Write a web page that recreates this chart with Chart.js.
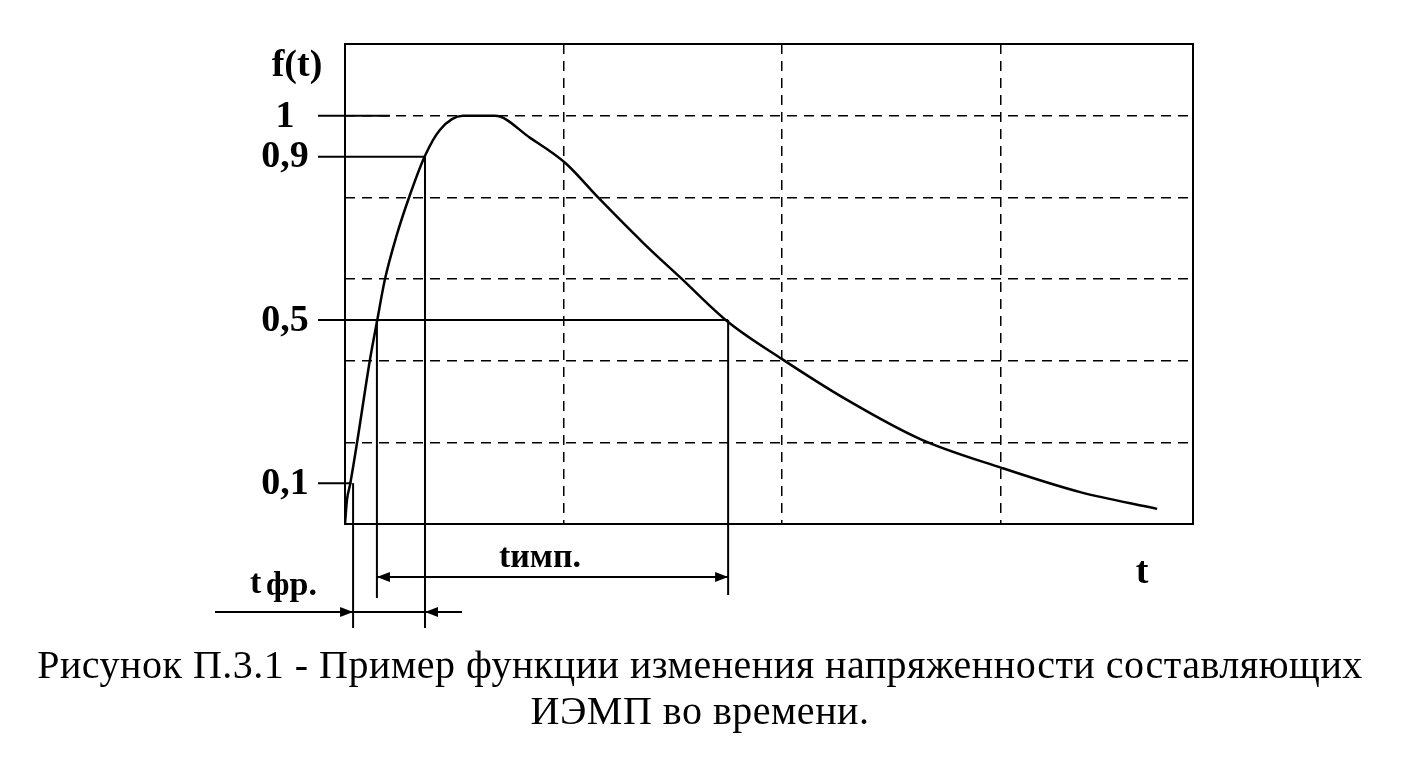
<!DOCTYPE html>
<html lang="ru">
<head>
  <meta charset="UTF-8">
  <title>Рисунок П.3.1</title>
  <script src="https://cdn.jsdelivr.net/npm/chart.js"></script>
  <style>
    html, body { margin: 0; padding: 0; background: #fff; }
    .wrap { width: 1417px; height: 762px; }
  </style>
</head>
<body>
  <div class="wrap"><canvas id="grafico" width="1417" height="762"></canvas></div>

  <script>
    // curve f(t), t in grid units (vertical dashed lines at 1, 2, 3)
    const tempo   = [0, 0.009, 0.023, 0.055, 0.114, 0.146, 0.183, 0.238, 0.293, 0.366, 0.435, 0.54, 0.686,
                     0.847, 1.007, 1.158, 1.364, 1.542, 1.753, 2.0, 2.297, 2.632, 3.007, 3.364, 3.716];
    const valores = [0, 0.059, 0.096, 0.199, 0.402, 0.495, 0.60, 0.71, 0.80, 0.902, 0.966, 1.0, 1.0,
                     0.946, 0.885, 0.80, 0.689, 0.60, 0.495, 0.404, 0.304, 0.208, 0.137, 0.078, 0.037];

    const gradeX = [1, 2, 3];
    const gradeY = [0.2, 0.4, 0.6, 0.8, 1];

    // marked levels on the f(t) axis and where their solid lines stop
    const niveis        = [1, 0.9, 0.5, 0.1];
    const rotulosNiveis = ['1', '0,9', '0,5', '0,1'];
    const fimNiveis     = [0.206, 0.366, 1.753, 0.03];

    // times where the curve crosses the levels
    const t01 = 0.037, t05a = 0.146, t09 = 0.366, t05b = 1.753;

    const legenda = [
      'Рисунок П.3.1 - Пример функции изменения напряженности составляющих',
      'ИЭМП во времени.'
    ];

    const SERIF = '"Liberation Serif", "Times New Roman", serif';

    function seta(ctx, xTip, yy, dir) {
      // dir = 1 points right, -1 points left
      ctx.beginPath();
      ctx.moveTo(xTip, yy);
      ctx.lineTo(xTip - dir * 13, yy - 5);
      ctx.lineTo(xTip - dir * 13, yy + 5);
      ctx.closePath();
      ctx.fill();
    }

    function linha(ctx, x1, y1, x2, y2) {
      ctx.beginPath();
      ctx.moveTo(x1, y1);
      ctx.lineTo(x2, y2);
      ctx.stroke();
    }

    const extras = {
      id: 'extras',
      afterDraw(chart) {
        const { ctx, chartArea: a, scales: { x, y } } = chart;
        ctx.save();
        ctx.strokeStyle = '#000';
        ctx.fillStyle = '#000';

        // frame
        ctx.lineWidth = 2;
        ctx.strokeRect(a.left, a.top, a.right - a.left, a.bottom - a.top);

        // level lines and labels
        ctx.font = 'bold 38px ' + SERIF;
        ctx.textAlign = 'center';
        ctx.textBaseline = 'middle';
        niveis.forEach((v, i) => {
          const py = y.getPixelForValue(v);
          linha(ctx, a.left - 27, py, x.getPixelForValue(fimNiveis[i]), py);
          ctx.fillText(rotulosNiveis[i], a.left - 60, py + 1);
        });

        // vertical markers
        const b = a.bottom;
        linha(ctx, x.getPixelForValue(t01), y.getPixelForValue(0.1), x.getPixelForValue(t01), b + 104);
        linha(ctx, x.getPixelForValue(t05a), y.getPixelForValue(0.5), x.getPixelForValue(t05a), b + 74);
        linha(ctx, x.getPixelForValue(t09), y.getPixelForValue(0.9), x.getPixelForValue(t09), b + 104);
        linha(ctx, x.getPixelForValue(t05b), y.getPixelForValue(0.5), x.getPixelForValue(t05b), b + 71);

        // pulse duration arrow
        const yImp = b + 53;
        linha(ctx, x.getPixelForValue(t05a), yImp, x.getPixelForValue(t05b), yImp);
        seta(ctx, x.getPixelForValue(t05a), yImp, -1);
        seta(ctx, x.getPixelForValue(t05b), yImp, 1);

        // rise time arrows
        const yFr = b + 88;
        linha(ctx, a.left - 130, yFr, x.getPixelForValue(t09) + 37, yFr);
        seta(ctx, x.getPixelForValue(t01), yFr, 1);
        seta(ctx, x.getPixelForValue(t09), yFr, -1);

        // axis names and interval labels
        ctx.textBaseline = 'alphabetic';
        ctx.font = 'bold 38px ' + SERIF;
        ctx.fillText('f(t)', a.left - 48, a.top + 32);
        ctx.fillText('t', 1142, b + 59);

        ctx.textAlign = 'left';
        ctx.font = 'bold 34px ' + SERIF;
        ctx.fillText('t', a.left - 95, b + 69);
        ctx.fillText('фр.', a.left - 79, b + 71);
        ctx.fillText('tимп.', x.getPixelForValue(t05a) + 122, b + 43);

        // caption
        ctx.textAlign = 'center';
        ctx.font = '40px ' + SERIF;
        ctx.letterSpacing = '0.5px';
        ctx.fillText(legenda[0], 700, 678);
        ctx.fillText(legenda[1], 700, 724);

        ctx.restore();
      }
    };

    new Chart(document.getElementById('grafico'), {
      type: 'scatter',
      data: {
        datasets: [{
          data: tempo.map((t, i) => ({ x: t, y: valores[i] })),
          showLine: true,
          borderColor: '#000',
          borderWidth: 2.5,
          pointRadius: 0,
          cubicInterpolationMode: 'monotone',
          fill: false
        }]
      },
      options: {
        responsive: false,
        animation: false,
        layout: { padding: { left: 345, top: 44, right: 224, bottom: 238 } },
        plugins: { legend: { display: false }, tooltip: { enabled: false } },
        scales: {
          x: {
            type: 'linear',
            min: 0,
            max: 3.88,
            afterBuildTicks: s => { s.ticks = gradeX.map(v => ({ value: v })); },
            afterFit: s => { s.height = 0; },
            ticks: { display: false },
            grid: { color: '#000', lineWidth: 1.5, drawTicks: false },
            border: { display: false, dash: [10, 7] }
          },
          y: {
            min: 0,
            max: 1.176,
            afterBuildTicks: s => { s.ticks = gradeY.map(v => ({ value: v })); },
            afterFit: s => { s.width = 0; },
            ticks: { display: false },
            grid: { color: '#000', lineWidth: 1.5, drawTicks: false },
            border: { display: false, dash: [10, 7] }
          }
        }
      },
      plugins: [extras]
    });
  </script>
</body>
</html>
